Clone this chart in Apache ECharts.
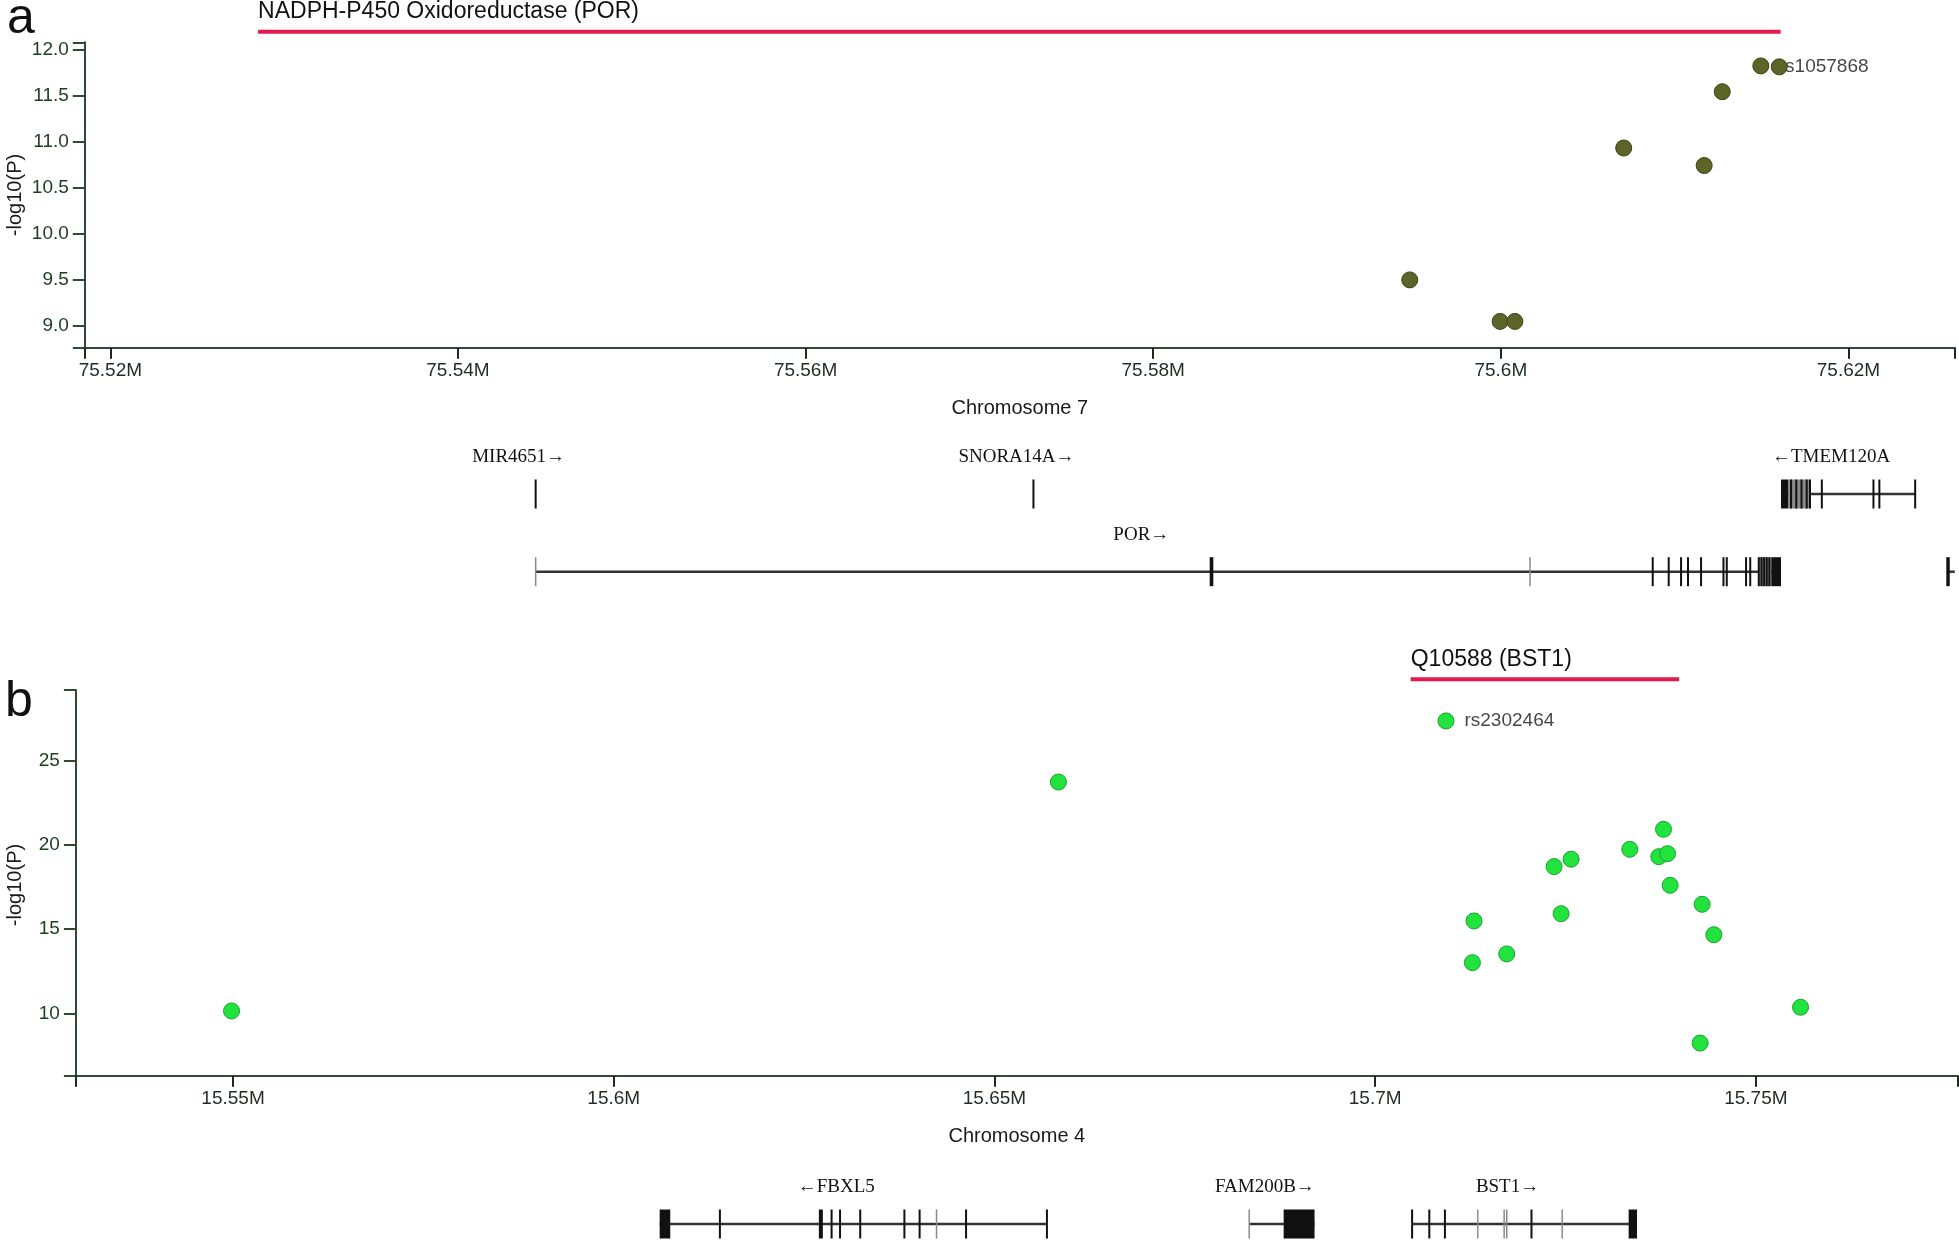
<!DOCTYPE html>
<html><head><meta charset="utf-8">
<script src="https://cdn.jsdelivr.net/npm/echarts@6/dist/echarts.min.js"></script>
<style>html,body{margin:0;padding:0;background:#fff}#c{width:1959px;height:1240px}</style>
</head><body><div id="c"></div>
<script>
// ================= DATA =================
// ---- Panel a : chromosome 7, POR locus ----
const posA  = [75.59476, 75.59996, 75.60081, 75.60707, 75.61170, 75.61274, 75.61496, 75.61602];
const logpA = [9.50, 9.05, 9.05, 10.93, 10.74, 11.54, 11.82, 11.81];
const leadNameA = 'rs1057868';
const leadIdxA = 7;
const xTicksA = [75.52, 75.54, 75.56, 75.58, 75.60, 75.62];
const yTicksA = [9.0, 9.5, 10.0, 10.5, 11.0, 11.5, 12.0];
const xRangeA = [75.51853, 75.62612];
const yRangeA = [8.765, 12.076];
const proteinA = 'NADPH-P450 Oxidoreductase (POR)';
const proteinSpanA = [75.5285, 75.6161];
const chromA = 'Chromosome 7';
const yNameText = '-log10(P)';
const geneNameA  = ['MIR4651→', 'SNORA14A→', '←TMEM120A', 'POR→', ''];
const geneRowA   = [1, 1, 1, 2, 2];
const geneStartA = [75.54447, 75.57311, 75.61612, 75.54447, 75.62573];
const geneEndA   = [75.54447, 75.57311, 75.62384, 75.61612, 75.62612];
const exonsA = [
  [75.54447,75.54447,1],[75.57311,75.57311,1],
  [75.61612,75.61653,1],[75.61670,75.61670,1],[75.61700,75.61700,1],[75.61730,75.61730,1],[75.61760,75.61760,1],[75.61779,75.61779,1],
  [75.61847,75.61847,1],[75.62144,75.62144,1],[75.62178,75.62178,1],[75.62384,75.62384,1],
  [75.58325,75.58346,2],
  [75.60874,75.60874,2],[75.60966,75.60966,2],[75.61037,75.61037,2],[75.61077,75.61077,2],[75.61152,75.61152,2],
  [75.61281,75.61281,2],[75.61300,75.61300,2],[75.61411,75.61411,2],[75.61435,75.61435,2],
  [75.61484,75.61484,2],[75.61500,75.61500,2],[75.61515,75.61515,2],[75.61530,75.61530,2],[75.61545,75.61545,2],
  [75.61556,75.61612,2],
  [75.62563,75.62583,2]
];
const exonsGrayA = [[75.54447,75.54447,2],[75.60168,75.60168,2],[75.61484,75.61556,2],[75.61653,75.61779,1]];

// ---- Panel b : chromosome 4, BST1 locus ----
const posB  = [15.54980, 15.65840, 15.70930, 15.71298, 15.71277, 15.71728, 15.72350, 15.72573, 15.72442,
               15.73344, 15.73787, 15.73725, 15.73840, 15.73874, 15.74294, 15.74448, 15.75587, 15.74268];
const logpB = [10.14, 23.75, 27.38, 15.49, 13.01, 13.53, 18.72, 19.16, 15.92,
               19.75, 20.94, 19.31, 19.49, 17.61, 16.48, 14.67, 10.36, 8.23];
const leadNameB = 'rs2302464';
const leadIdxB = 2;
const xTicksB = [15.55, 15.60, 15.65, 15.70, 15.75];
const yTicksB = [10, 15, 20, 25];
const xRangeB = [15.52936, 15.77652];
const yRangeB = [6.29, 29.22];
const proteinB = 'Q10588 (BST1)';
const proteinSpanB = [15.70467, 15.73992];
const chromB = 'Chromosome 4';
const geneNameB  = ['←FBXL5', 'FAM200B→', 'BST1→'];
const geneRowB   = [1, 1, 1];
const geneStartB = [15.60603, 15.68346, 15.70485];
const geneEndB   = [15.65689, 15.69204, 15.73439];
const exonsB = [
  [15.60603,15.60742,1],[15.61394,15.61394,1],[15.62694,15.62746,1],[15.62861,15.62861,1],[15.62972,15.62972,1],
  [15.63237,15.63237,1],[15.63817,15.63817,1],[15.64017,15.64017,1],[15.64627,15.64627,1],[15.65689,15.65689,1],
  [15.68798,15.69204,1],
  [15.70485,15.70485,1],[15.70711,15.70711,1],[15.70916,15.70916,1],[15.72053,15.72053,1],[15.73329,15.73439,1]
];
const exonsGrayB = [[15.64239,15.64239,1],[15.68346,15.68346,1],[15.71347,15.71347,1],[15.71694,15.71694,1],[15.71728,15.71728,1],[15.72456,15.72456,1]];

// ================= STYLE / BUILD =================
const SANS = '"Liberation Sans", Arial, sans-serif';
const SERIF = '"Liberation Serif", "Times New Roman", "DejaVu Serif", serif';
const AXIS_GREEN = '#2f4a33';
const fmtM = v => (+(+v).toFixed(2)) + 'M';

function mainAxes(gi, xr, yr, xt, yt, chrom, yFmt) {
  return {
    x: {
      gridIndex: gi, type: 'value', min: xr[0], max: xr[1],
      axisLine: { show: true, onZero: false, lineStyle: { color: AXIS_GREEN, width: 2 } },
      axisTick: { show: true, length: 11, customValues: [xr[0], ...xt, xr[1]], lineStyle: { color: '#1e2a20', width: 2 } },
      axisLabel: { customValues: xt, formatter: fmtM, fontSize: 19, color: '#1f2d22', margin: 14, fontFamily: SANS },
      splitLine: { show: false },
      name: chrom, nameLocation: 'middle', nameGap: 51, nameMoveOverlap: false,
      nameTextStyle: { fontSize: 20, color: '#1a1a1a', fontFamily: SANS }
    },
    y: {
      gridIndex: gi, type: 'value', min: yr[0], max: yr[1],
      axisLine: { show: true, onZero: false, lineStyle: { color: AXIS_GREEN, width: 2 } },
      axisTick: { show: true, length: 12, customValues: [yr[0], ...yt, yr[1]], lineStyle: { color: AXIS_GREEN, width: 2 } },
      axisLabel: { customValues: yt, formatter: yFmt, fontSize: 19, color: '#1c4020', margin: 16, fontFamily: SANS },
      splitLine: { show: false }
    }
  };
}
function hiddenAxes(gi, xr, yr, inverse) {
  return {
    x: { gridIndex: gi, type: 'value', min: xr[0], max: xr[1], show: false },
    y: { gridIndex: gi, type: 'value', min: yr[0], max: yr[1], inverse: inverse, show: false }
  };
}

const mA = mainAxes(0, xRangeA, yRangeA, xTicksA, yTicksA, chromA, v => (+v).toFixed(1));
const hA = hiddenAxes(1, xRangeA, [0, 1], false);
const gA = hiddenAxes(2, xRangeA, [1, 2], true);
const mB = mainAxes(3, xRangeB, yRangeB, xTicksB, yTicksB, chromB, v => String(+v));
const hB = hiddenAxes(4, xRangeB, [0, 1], false);
const gB = hiddenAxes(5, xRangeB, [0, 1], true);

function headerSeries(ai, span, text) {
  return {
    type: 'custom', xAxisIndex: ai, yAxisIndex: ai, clip: false, z: 2,
    data: [[span[0], span[1]]],
    encode: { x: [0, 1] },
    renderItem(params, api) {
      const p1 = api.coord([api.value(0), 0.5]);
      const p2 = api.coord([api.value(1), 0.5]);
      return { type: 'group', children: [
        { type: 'line', shape: { x1: p1[0], y1: p1[1], x2: p2[0], y2: p2[1] }, style: { stroke: '#e31b4d', lineWidth: 4 } },
        { type: 'text', style: { text: text, x: p1[0], y: p1[1] - 20, align: 'left', verticalAlign: 'middle',
            fontSize: 23, fontFamily: SANS, fill: '#111' } }
      ]};
    }
  };
}
function geneSeries(ai, starts, ends, rows, names) {
  return {
    type: 'custom', xAxisIndex: ai, yAxisIndex: ai, clip: false, z: 2,
    data: starts.map((s, i) => [s, ends[i], rows[i]]),
    encode: { x: [0, 1], y: 2 },
    renderItem(params, api) {
      const p1 = api.coord([api.value(0), api.value(2)]);
      const p2 = api.coord([api.value(1), api.value(2)]);
      const name = names[params.dataIndex];
      const ch = [{ type: 'line', shape: { x1: p1[0], y1: p1[1], x2: p2[0], y2: p2[1] }, style: { stroke: '#333', lineWidth: 2.5 } }];
      if (name) ch.push({ type: 'text', style: { text: name, x: (p1[0] + p2[0]) / 2 - 17, y: p1[1] - 37,
        align: 'center', verticalAlign: 'middle', fontSize: 19, fontFamily: SERIF, fill: '#111' } });
      return { type: 'group', children: ch };
    }
  };
}
function exonSeries(ai, list, color, minW, z) {
  return {
    type: 'custom', xAxisIndex: ai, yAxisIndex: ai, clip: false, z: z,
    data: list,
    encode: { x: [0, 1], y: 2 },
    renderItem(params, api) {
      const p1 = api.coord([api.value(0), api.value(2)]);
      const p2 = api.coord([api.value(1), api.value(2)]);
      let x = p1[0], w = p2[0] - p1[0];
      if (w < minW) { x = (p1[0] + p2[0]) / 2 - minW / 2; w = minW; }
      return { type: 'rect', shape: { x: x, y: p1[1] - 14.5, width: w, height: 29 }, style: { fill: color } };
    }
  };
}
function dotSeries(ai, xs, ys, fill, border) {
  return {
    type: 'scatter', xAxisIndex: ai, yAxisIndex: ai, z: 4,
    data: xs.map((x, i) => [x, ys[i]]),
    symbolSize: 16,
    itemStyle: { color: fill, borderColor: border, borderWidth: 1, opacity: 1 }
  };
}
function leadLabelSeries(ai, x, y, name, dx) {
  return {
    type: 'scatter', xAxisIndex: ai, yAxisIndex: ai, z: 3,
    data: [[x, y]], symbolSize: 1,
    itemStyle: { color: 'rgba(0,0,0,0)' },
    label: { show: true, formatter: name, position: [dx, 0], align: 'left', verticalAlign: 'middle',
             fontSize: 19, fontFamily: SANS, color: '#151515' }
  };
}
function yNameGraphic(cy) {
  return { type: 'text', x: 15, y: cy, rotation: Math.PI / 2,
    style: { text: yNameText, align: 'center', verticalAlign: 'middle', fontSize: 20, fontFamily: SANS, fill: '#1a1a1a' } };
}

const chart = echarts.init(document.getElementById('c'), null, { renderer: 'canvas' });
chart.setOption({
  animation: false,
  backgroundColor: '#fff',
  graphic: [
    { type: 'text', left: 7, top: -6, style: { text: 'a', fontSize: 50, fontFamily: SANS, fill: '#111' } },
    { type: 'text', left: 5, top: 677, style: { text: 'b', fontSize: 50, fontFamily: SANS, fill: '#111' } },
    yNameGraphic(195),
    yNameGraphic(885)
  ],
  grid: [
    { left: 84.8, top: 42.3, width: 1870, height: 305.4, containLabel: false, outerBoundsMode: 'none' },
    { left: 84.8, top: 21.7, width: 1870, height: 20, containLabel: false, outerBoundsMode: 'none' },
    { left: 84.8, top: 494, width: 1870, height: 77.7, containLabel: false, outerBoundsMode: 'none' },
    { left: 75.9, top: 690, width: 1881.9, height: 385.7, containLabel: false, outerBoundsMode: 'none' },
    { left: 75.9, top: 669.3, width: 1881.9, height: 20, containLabel: false, outerBoundsMode: 'none' },
    { left: 75.9, top: 1146.3, width: 1881.9, height: 77.7, containLabel: false, outerBoundsMode: 'none' }
  ],
  xAxis: [mA.x, hA.x, gA.x, mB.x, hB.x, gB.x],
  yAxis: [mA.y, hA.y, gA.y, mB.y, hB.y, gB.y],
  series: [
    leadLabelSeries(0, posA[leadIdxA], logpA[leadIdxA], leadNameA, 0),
    dotSeries(0, posA, logpA, '#5c6428', '#3c4216'),
    headerSeries(1, proteinSpanA, proteinA),
    geneSeries(2, geneStartA, geneEndA, geneRowA, geneNameA),
    exonSeries(2, exonsGrayA, '#8a8a8a', 1.5, 3),
    exonSeries(2, exonsA, '#111', 2, 4),
    leadLabelSeries(3, posB[leadIdxB], logpB[leadIdxB], leadNameB, 19),
    dotSeries(3, posB, logpB, '#22e33e', '#17a42e'),
    headerSeries(4, proteinSpanB, proteinB),
    geneSeries(5, geneStartB, geneEndB, geneRowB, geneNameB),
    exonSeries(5, exonsGrayB, '#8a8a8a', 1.5, 3),
    exonSeries(5, exonsB, '#111', 2, 4)
  ]
});
</script></body></html>
